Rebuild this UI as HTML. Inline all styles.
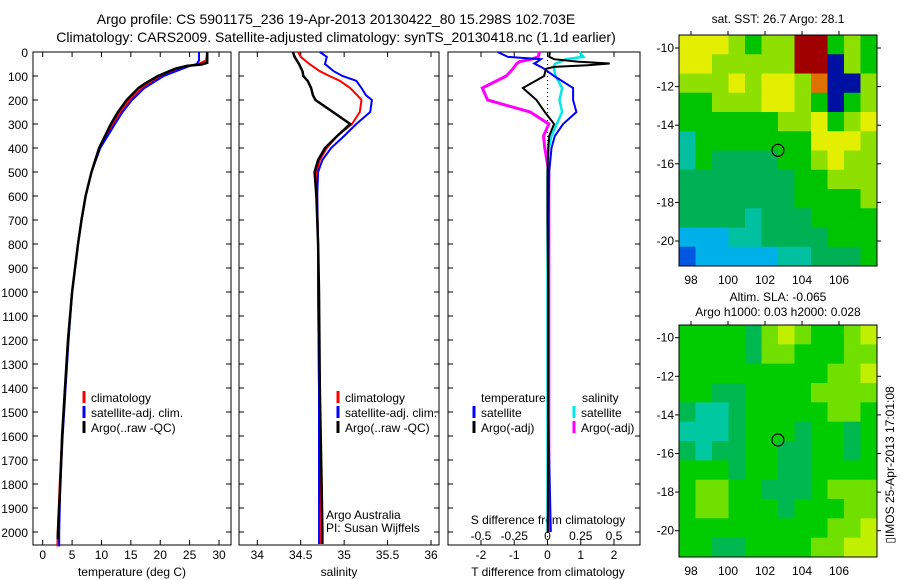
<!DOCTYPE html>
<html><head><meta charset="utf-8">
<style>
body{margin:0;background:#fff;width:900px;height:580px;overflow:hidden}
svg{display:block;font-family:"Liberation Sans",sans-serif}
text{fill:#000}
</style></head>
<body>
<svg id="fig" width="900" height="580" viewBox="0 0 900 580">
<text x="336" y="24" font-size="14" text-anchor="middle">Argo profile: CS 5901175_236 19-Apr-2013 20130422_80 15.298S 102.703E</text>
<text x="336" y="42" font-size="14" text-anchor="middle">Climatology: CARS2009. Satellite-adjusted climatology: synTS_20130418.nc (1.1d earlier)</text>
<text x="778" y="23" font-size="12" text-anchor="middle">sat. SST: 26.7 Argo: 28.1</text>
<text x="778" y="301" font-size="12" text-anchor="middle">Altim. SLA: -0.065</text>
<text x="778" y="316" font-size="12" text-anchor="middle">Argo h1000: 0.03 h2000: 0.028</text>
<text transform="translate(894,465) rotate(-90)" font-size="12" text-anchor="middle">▯IMOS 25-Apr-2013 17:01:08</text>
<g id="g"></g>
</svg>
<script>
// ---- depth profile data ----
const tDepthArgo=[0,45,52,58,70,100,130,150,200,250,300,400,500,600,700,800,1000,1200,1400,1600,1800,2000,2030];
const tArgo=[28,28,27,24.5,22.5,19.6,17.5,16.3,14.3,12.8,11.6,9.6,8.3,7.3,6.6,6.0,5.0,4.3,3.8,3.3,3.0,2.6,2.55];
const tDepthClim=[0,35,50,60,100,150,200,250,300,400,500,600,700,800,1000,1200,1400,1600,1800,2000,2060];
const tClim=[28,27.8,26.5,24.5,20.2,16.9,14.8,13.2,12.0,9.7,8.3,7.3,6.6,6.0,5.0,4.3,3.8,3.3,2.9,2.55,2.5];
const tSat=[26.6,26.6,26.2,24.8,20.6,17.3,15.2,13.6,12.3,9.8,8.3,7.3,6.6,6.0,5.0,4.4,3.9,3.4,3.0,2.8,2.8];
const sDepth=[0,20,50,80,100,120,150,180,200,250,300,350,400,450,500,600,800,1000,1400,1800,2000,2050];
const sArgo=[34.41,34.43,34.48,34.52,34.53,34.58,34.62,34.64,34.67,34.87,35.07,34.92,34.78,34.7,34.66,34.68,34.7,34.71,34.72,34.74,34.75,34.75];
const sClim=[34.47,34.5,34.6,34.72,34.83,34.95,35.07,35.15,35.2,35.18,35.09,34.92,34.8,34.72,34.68,34.69,34.7,34.7,34.71,34.72,34.73,34.73];
const sSat=[34.72,34.8,34.78,34.88,34.98,35.14,35.2,35.25,35.32,35.3,35.14,35.0,34.85,34.75,34.7,34.69,34.7,34.7,34.71,34.71,34.71,34.71];
const dDepth=[0,20,30,40,48,55,62,70,100,150,200,250,300,350,400,500,700,1000,1500,2000];
const dTArgo=[0.07,0.05,0.2,0.9,1.87,1.2,0.2,-0.05,-0.1,-0.74,-0.33,-0.08,0.2,0.05,0.02,0,0,0.02,0.02,0.01];
const dTSat=[-1.5,-1.2,-0.2,-0.3,-0.4,-0.3,-0.2,-0.1,0.2,0.77,0.77,0.87,0.47,0.22,0.12,0.05,0.03,0.02,0.02,0.1];
const dSArgo=[-0.06,-0.07,-0.12,-0.21,-0.23,-0.24,-0.25,-0.26,-0.31,-0.49,-0.45,-0.13,0.01,-0.03,-0.02,0.01,0.01,0.01,0.01,0.01];
const dSSat=[0.24,0.27,0.14,0.1,0.06,0.05,0.05,0.05,0.06,0.11,0.09,0.11,0.07,0.03,0.01,0,0,0,0,0];
const depthTicks=[0,100,200,300,400,500,600,700,800,900,1000,1100,1200,1300,1400,1500,1600,1700,1800,1900,2000];
const tempTicks=[0,5,10,15,20,25,30];
const salTicks=[34,34.5,35,35.5,36];
const salTickLabels=["34","34.5","35","35.5","36"];
const dTTicks=[-2,-1,0,1,2];
const dSTicks=[-0.5,-0.25,0,0.25,0.5];
const dSTickLabels=["-0.5","-0.25","0","0.25","0.5"];
// ---- map data (colour codes per cell) ----
const sstRows=["YYYLGLLRRGLG","YYLLLLLRRDLG","LLLYLYYLODDL","GGLLLYYLGDGL","GGGGGGLLYGLY","TGGGGGGGYYYL","TGMMMMGGLYLL","MMMMMMMGGLLL","MMMMMMMGGGGL","MMMMTMMMGGGG","CCCTTMMMMGGG","BCCCCCTTMMMG"];
const slaRows=["GGGGMLYLGGLY","GGGGMLLGGGLL","GGGGGGGGGLLY","GGMMGGGGLLLL","MTTMGGGGGLLG","TTTMGGGMGGMG","MTMMGGMMGGMG","GGGMGGMMGGGG","GLLGGMMMGLLL","GLLGGGMGGGLL","GGGGGGGGGLLY","GGMMGGGGLLYY"];
const sstColors={Y:"#e4ee00",L:"#8ee000",G:"#00c400",M:"#00b055",T:"#00c0a0",C:"#00b0e8",B:"#0058e0",D:"#0010a0",R:"#a00000",O:"#e07000"};
const slaColors={Y:"#c0f000",L:"#70e000",G:"#00cc00",M:"#00b850",T:"#00c8a0"};
const lonTicks=[98,100,102,104,106];
const latTicks=[-10,-12,-14,-16,-18,-20];
const floatLon=102.7, floatLat=-15.3;

const NS="http://www.w3.org/2000/svg";
const G=document.getElementById('g');
function mk(tag,attrs,parent){const e=document.createElementNS(NS,tag);for(const k in attrs)e.setAttribute(k,attrs[k]);(parent||G).appendChild(e);return e;}
const top0=52, pxPerM=0.24, bot=545;
const yD=d=>top0+d*pxPerM;
function lin(d0,d1,p0,p1){return v=>p0+(v-d0)*(p1-p0)/(d1-d0);}
const panels=[
 {l:33,r:231,x:lin(0,30,42.7,219)},
 {l:239,r:439,x:lin(34,36,257.3,431)},
 {l:448,r:640,x:lin(-2,2,481,614)}
];
const xS=lin(-0.5,0.5,481,614);
panels.forEach((p,i)=>{
  const fr=mk('rect',{x:p.l,y:top0,width:p.r-p.l,height:bot-top0,fill:'none',stroke:'#000','stroke-width':1});
  
  
  depthTicks.forEach(d=>{
    mk('line',{x1:p.l,x2:p.l+5,y1:yD(d),y2:yD(d),stroke:'#000'});
    mk('line',{x1:p.r-5,x2:p.r,y1:yD(d),y2:yD(d),stroke:'#000'});
  });
});
depthTicks.forEach(d=>{const t=mk('text',{x:28,y:yD(d)+5,'font-size':12,'text-anchor':'end'});t.textContent=d;

});
function xticks(p,vals,labels,fx,ly){vals.forEach((v,i)=>{const X=fx(v);mk('line',{x1:X,x2:X,y1:bot-5,y2:bot,stroke:'#000'});mk('line',{x1:X,x2:X,y1:top0,y2:top0+5,stroke:'#000'});
 const t=mk('text',{x:X,y:ly,'font-size':12,'text-anchor':'middle'});t.textContent=labels?labels[i]:v;
 
 });}
xticks(panels[0],tempTicks,null,panels[0].x,559);
xticks(panels[1],salTicks,salTickLabels,panels[1].x,559);
xticks(panels[2],dTTicks,null,panels[2].x,559);
dSTicks.forEach((v,i)=>{const t=mk('text',{x:xS(v),y:540,'font-size':12,'text-anchor':'middle'});t.textContent=dSTickLabels[i];

});
[[132,'temperature (deg C)','x-axis-title-temperature'],[339,'salinity','x-axis-title-salinity'],[548,'T difference from climatology','x-axis-title-t-diff']].forEach(a=>{const t=mk('text',{x:a[0],y:576,'font-size':12,'text-anchor':'middle'});t.textContent=a[1];

});
{const t=mk('text',{x:548,y:524,'font-size':12,'text-anchor':'middle'});t.textContent='S difference from climatology';

}
// zero dotted line
mk('line',{x1:panels[2].x(0),x2:panels[2].x(0),y1:top0,y2:bot,stroke:'#000','stroke-dasharray':'1,3'});
function line(depths,vals,fx,color,w,name,dash){
  const pts=depths.map((d,i)=>fx(vals[i]).toFixed(1)+','+yD(d).toFixed(1)).join(' ');
  const e=mk('polyline',{points:pts,fill:'none',stroke:color,'stroke-width':w});
  if(dash)e.setAttribute('stroke-dasharray',dash);
  
  
}
line(tDepthClim,tClim,panels[0].x,'#f00',2,'temp-climatology-line');
line(tDepthClim,tSat,panels[0].x,'#00f',2,'temp-satellite-line');
line(tDepthArgo,tArgo,panels[0].x,'#000',2.5,'temp-argo-line');
line(sDepth,sClim,panels[1].x,'#f00',2,'sal-climatology-line');
line(sDepth,sSat,panels[1].x,'#00f',2,'sal-satellite-line');
line(sDepth,sArgo,panels[1].x,'#000',2.5,'sal-argo-line');
line(dDepth,dSSat,xS,'#00e8e8',2.5,'sdiff-satellite-line');
line(dDepth,dSArgo,xS,'#f0f',3,'sdiff-argo-line');
line(dDepth,dTSat,panels[2].x,'#00f',2,'tdiff-satellite-line');
line(dDepth,dTArgo,panels[2].x,'#000',2,'tdiff-argo-line');
function legend(x,y,color,label,name){mk('rect',{x:x-1.5,y:y-6,width:3,height:12,fill:color});
 const t=mk('text',{x:x+7,y:y+5,'font-size':12});t.textContent=label;
 
 }
legend(84,397,'#f00','climatology','legend-climatology');
legend(84,412,'#00f','satellite-adj. clim.','legend-satellite');
legend(84,427,'#000','Argo(..raw -QC)','legend-argo');
legend(338,397,'#f00','climatology','legend-climatology-2');
legend(338,412,'#00f','satellite-adj. clim.','legend-satellite-2');
legend(338,427,'#000','Argo(..raw -QC)','legend-argo-2');
{const t=mk('text',{x:481,y:402,'font-size':12});t.textContent='temperature';


const s=mk('text',{x:582,y:402,'font-size':12});s.textContent='salinity';

}
legend(474,412,'#00f','satellite','legend-t-satellite');
legend(474,427,'#000','Argo(-adj)','legend-t-argo');
legend(574,412,'#00e8e8','satellite','legend-s-satellite');
legend(574,427,'#f0f','Argo(-adj)','legend-s-argo');
[['Argo Australia',519],['PI: Susan Wijffels',532]].forEach((a,i)=>{const t=mk('text',{x:326,y:a[1],'font-size':12});t.textContent=a[0];

});
// ---- maps ----
function map(top,bottom,rows,colors,name,lat10y){
  const l=679,r=877,nR=rows.length,nC=rows[0].length,cw=(r-l)/nC,ch=(bottom-top)/nR;
  rows.forEach((row,ri)=>{for(let ci=0;ci<nC;ci++){
    const c=mk('rect',{x:l+ci*cw,y:top+ri*ch,width:cw+0.5,height:ch+0.5,fill:colors[row[ci]]});
    
    }});
  const fr=mk('rect',{x:l,y:top,width:r-l,height:bottom-top,fill:'none',stroke:'#000'});
  
  
  const fxL=lin(98,106,691,839), fyL=lin(-10,-20,lat10y,lat10y+193);
  lonTicks.forEach(v=>{const X=fxL(v);mk('line',{x1:X,x2:X,y1:top-4,y2:top,stroke:'#000'});
    const t=mk('text',{x:X,y:bottom+18,'font-size':12,'text-anchor':'middle'});t.textContent=v;
    
    });
  latTicks.forEach(v=>{const Y=fyL(v);mk('line',{x1:l-4,x2:l,y1:Y,y2:Y,stroke:'#000'});mk('line',{x1:r,x2:r+4,y1:Y,y2:Y,stroke:'#000'});
    const t=mk('text',{x:674,y:Y+4,'font-size':12,'text-anchor':'end'});t.textContent=v;
    
    });
  const c=mk('circle',{cx:fxL(floatLon),cy:fyL(floatLat),r:6,fill:'none',stroke:'#000','stroke-width':1.2});
  
  
}
map(35,266,sstRows,sstColors,'sst-map',48);
map(325,557,slaRows,slaColors,'sla-map',337.7);
</script>
</body></html>
